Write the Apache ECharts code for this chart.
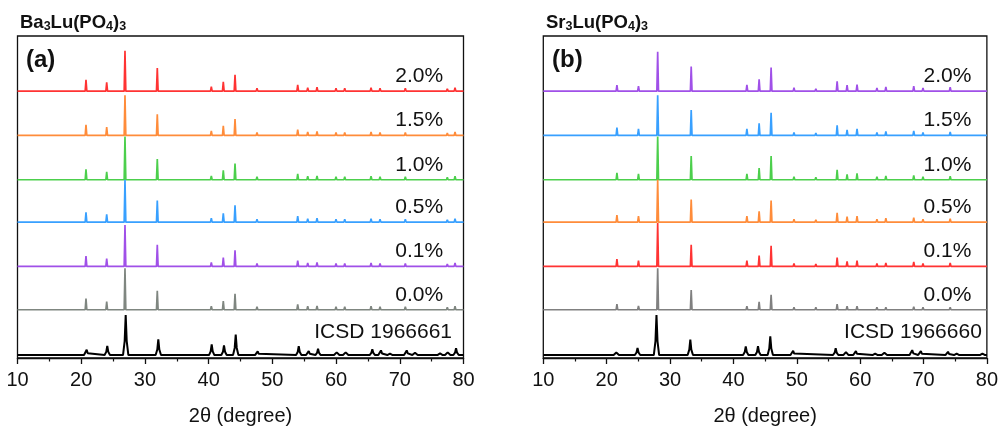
<!DOCTYPE html>
<html><head><meta charset="utf-8">
<script src="https://cdn.jsdelivr.net/npm/echarts@6/dist/echarts.min.js"></script>
<style>html,body{margin:0;padding:0;background:#fff}#c{width:1001px;height:431px}</style>
</head><body><div id="c"></div>
<script>
// ---------- Panel (a): Ba3Lu(PO4)3 ----------
const peaksA = [20.75, 24.0, 26.87, 31.94, 40.42, 42.30, 44.14, 47.59, 53.98, 55.55, 57.01, 59.99, 61.36, 65.49, 66.9, 70.87, 77.46, 78.67];
const a_2_0 = [11.5, 9, 41, 23.5, 4.5, 9.5, 16.5, 3, 6.5, 3.5, 4, 3, 3, 3.5, 3, 3, 2.5, 3.5];
const a_1_5 = [10.7, 8.4, 40.7, 21.4, 4.7, 9.7, 16.7, 3, 6, 3.5, 4, 3, 3, 3.5, 3, 3, 2.5, 3.5];
const a_1_0 = [10.5, 8, 44, 21, 4, 9.5, 16.5, 3, 6, 3.5, 4, 3, 3, 3.5, 3, 3, 2.5, 3.5];
const a_0_5 = [10, 8, 43, 22, 4, 9, 17, 3, 6, 3.5, 4, 3, 3, 3.5, 3, 3, 2.5, 3.5];
const a_0_1 = [10.5, 8, 42, 22, 4, 9, 16.5, 3, 6, 3.5, 4, 3, 3, 3.5, 3, 3, 2.5, 3.5];
const a_0_0 = [11.3, 8.3, 42, 19.3, 3.5, 8.7, 16.3, 3, 5.5, 3.5, 4, 3, 3, 3.5, 3, 3, 2.5, 3.5];
const icsdPeaksA = [20.86, 24.09, 26.98, 32.1, 40.48, 42.41, 44.25, 47.7, 54.14, 55.71, 57.17, 60.1, 61.51, 65.69, 67.05, 68.46, 71.09, 72.39, 76.32, 77.52, 78.83];
const icsdA = [5.3, 9.3, 40.7, 16, 10.7, 9.7, 20.7, 3.7, 9, 4, 6.3, 2.7, 2.7, 6, 4.7, 1.5, 4.7, 2.3, 1.7, 2.7, 7];
const labelsA = ['2.0%', '1.5%', '1.0%', '0.5%', '0.1%', '0.0%', 'ICSD 1966661'];
const colorsA = ['#ff3333', '#ff8c3a', '#4ccf4c', '#38a0ff', '#a050e8', '#7f8680', '#000000'];

// ---------- Panel (b): Sr3Lu(PO4)3 ----------
const peaksB = [21.62, 25.02, 28.05, 33.34, 42.13, 44.06, 45.95, 49.56, 53.01, 56.37, 57.94, 59.51, 62.65, 64.06, 68.46, 69.92, 74.21];
const b_2_0 = [6, 5, 40, 25, 6.3, 12, 24, 3.4, 2.5, 10, 6, 6.7, 3.3, 4.3, 5, 3.3, 4];
const b_1_5 = [8, 6.7, 40.7, 25.7, 6.7, 12.4, 23, 3, 2.5, 10.4, 5.7, 6.7, 3, 4, 4.7, 3, 3.5];
const b_1_0 = [7, 6, 44, 24, 6, 12, 24, 3, 2.5, 10, 5.5, 6.5, 3, 4, 4.5, 3, 3.5];
const b_0_5 = [7, 6, 43, 23, 6, 11, 22, 3, 2.5, 9.5, 5.5, 6, 3, 4, 4.5, 3, 3.5];
const b_0_1 = [7.5, 6, 44, 22, 6, 11, 21, 3, 2.5, 9, 5, 6, 3, 3.5, 4.5, 3, 3.5];
const b_0_0 = [5.7, 4, 42, 20, 3.5, 8, 15.3, 2.5, 2.5, 5.7, 3.5, 3.5, 2.5, 2.5, 3, 2.5, 2.5];
const icsdPeaksB = [21.52, 24.87, 27.86, 33.2, 41.95, 43.88, 45.82, 49.43, 56.14, 57.76, 59.33, 62.37, 63.83, 68.22, 69.58, 73.87, 75.23, 79.3];
const icsdB = [2.5, 7.3, 40.7, 15.7, 8.7, 9, 19, 4.3, 7, 3, 4, 1.5, 2.3, 5, 4, 3.3, 1.5, 1.5];
const labelsB = ['2.0%', '1.5%', '1.0%', '0.5%', '0.1%', '0.0%', 'ICSD 1966660'];
const colorsB = ['#a050e8', '#38a0ff', '#4ccf4c', '#ff8c3a', '#ff3333', '#808080', '#000000'];

// vertical stacking offsets (top trace first)
const stackOffsets = [271, 226, 181, 138, 93, 49, 3];
const xTickMin = 10, xTickMax = 80, xTickStep = 10;

const FONT = '"Liberation Sans", Arial, Helvetica, sans-serif';

function measuredLine(pos, h, off) {
  const w = 0.13;
  const d = [[xTickMin, off]];
  pos.forEach((p, i) => { d.push([p - w, off], [p, off + h[i]], [p + w, off]); });
  d.push([xTickMax, off]);
  return d;
}
function icsdLine(pos, h, off) {
  const d = [[xTickMin, off]];
  pos.forEach((p, i) => {
    d.push([p - 0.42, off], [p - 0.16, off + h[i] * 0.35], [p, off + h[i]], [p + 0.16, off + h[i] * 0.35], [p + 0.42, off]);
  });
  d.push([xTickMax, off]);
  return d;
}

function buildSeries(gi, traces, labels, colors, icsdPos, icsdH, pos, pctX, icsdX) {
  const out = [];
  const all = traces.concat([null]);
  all.forEach((h, k) => {
    const off = stackOffsets[k];
    const isIcsd = h === null;
    out.push({
      type: 'line',
      xAxisIndex: gi, yAxisIndex: gi,
      data: isIcsd ? icsdLine(icsdPos, icsdH, off) : measuredLine(pos, h, off),
      showSymbol: false, symbol: 'none',
      lineStyle: { color: colors[k], width: isIcsd ? 2 : 1.7 },
      itemStyle: { color: colors[k] },
      silent: true, animation: false, z: 3,
      markPoint: {
        symbol: 'circle', symbolSize: 0, silent: true, animation: false,
        data: [{ coord: [isIcsd ? icsdX : pctX, off + (isIcsd ? 23.5 : 15)] }],
        label: {
          show: true, position: 'left', distance: 0,
          formatter: labels[k], color: '#111', fontSize: 21, fontFamily: FONT
        }
      }
    });
  });
  return out;
}

const seriesA = buildSeries(0, [a_2_0, a_1_5, a_1_0, a_0_5, a_0_1, a_0_0], labelsA, colorsA, icsdPeaksA, icsdA, peaksA, 76.8, 78.2);
const seriesB = buildSeries(1, [b_2_0, b_1_5, b_1_0, b_0_5, b_0_1, b_0_0], labelsB, colorsB, icsdPeaksB, icsdB, peaksB, 77.55, 79.2);

function xAxisCfg(gi) {
  return {
    gridIndex: gi, type: 'value', min: xTickMin, max: xTickMax, interval: xTickStep,
    name: '2θ (degree)', nameLocation: 'middle', nameGap: 48,
    nameTextStyle: { fontSize: 20, color: '#111', fontFamily: FONT },
    axisLine: { show: true, lineStyle: { color: '#111', width: 1.3 } },
    axisTick: { show: true, inside: false, length: 6, lineStyle: { color: '#111', width: 1.3 } },
    minorTick: { show: true, splitNumber: 2, length: 3.5, lineStyle: { color: '#111', width: 1.2 } },
    axisLabel: { fontSize: 20, color: '#111', fontFamily: FONT, margin: 12 },
    splitLine: { show: false }
  };
}
function yAxisCfg(gi) {
  return { gridIndex: gi, type: 'value', min: 0, max: 327, show: false, splitLine: { show: false } };
}

const titleRich = {
  b: { fontSize: 18.5, fontWeight: 'bold', color: '#111', fontFamily: FONT, lineHeight: 20 },
  s: { fontSize: 12.5, fontWeight: 'bold', color: '#111', fontFamily: FONT, lineHeight: 4, verticalAlign: 'bottom' }
};

const option = {
  backgroundColor: '#fff',
  animation: false,
  title: [
    { text: '{b|Ba}{s|3}{b|Lu(PO}{s|4}{b|)}{s|3}', left: 15, top: 8, textStyle: { rich: titleRich } },
    { text: '{b|Sr}{s|3}{b|Lu(PO}{s|4}{b|)}{s|3}', left: 541, top: 8, textStyle: { rich: titleRich } },
    { text: '(a)', left: 21, top: 43, textStyle: { fontSize: 24, fontWeight: 'bold', color: '#111', fontFamily: FONT } },
    { text: '(b)', left: 547, top: 43, textStyle: { fontSize: 24, fontWeight: 'bold', color: '#111', fontFamily: FONT } }
  ],
  grid: [
    { left: 17.5, right: 537.5, top: 36, bottom: 68, show: true, borderColor: '#111', borderWidth: 1.3, backgroundColor: 'transparent' },
    { left: 543.3, right: 12, top: 36, bottom: 68, show: true, borderColor: '#111', borderWidth: 1.3, backgroundColor: 'transparent' }
  ],
  xAxis: [xAxisCfg(0), xAxisCfg(1)],
  yAxis: [yAxisCfg(0), yAxisCfg(1)],
  series: seriesA.concat(seriesB)
};

const chart = echarts.init(document.getElementById('c'), null, { renderer: 'canvas' });
chart.setOption(option);
</script>
</body></html>
